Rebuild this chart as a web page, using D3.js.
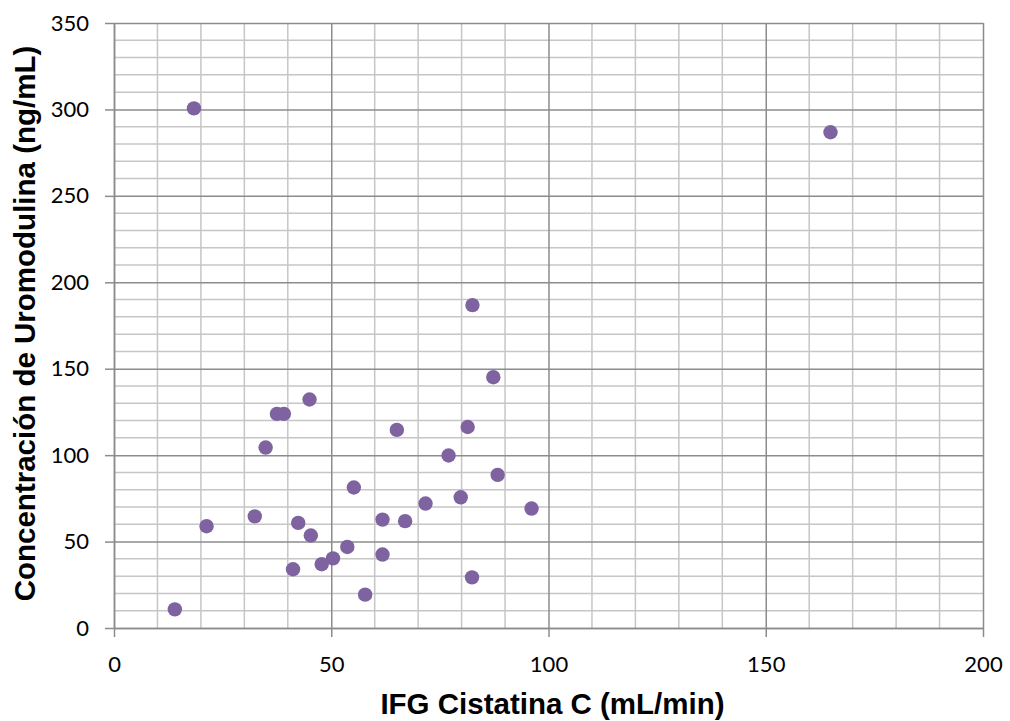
<!DOCTYPE html>
<html>
<head>
<meta charset="utf-8">
<script src="https://cdn.jsdelivr.net/npm/d3@7"></script>
<style>
  body { margin: 0; background: #fff; }
  svg { display: block; }
</style>
</head>
<body>
<svg id="chart" width="1010" height="721"></svg>
<script>
// IFG Cistatina C (mL/min)
const ifg = [14.0, 21.3, 32.4, 34.9, 37.5, 39.1, 45.0, 41.2, 42.4, 45.3,
  47.8, 50.4, 53.7, 55.2, 57.8, 61.8, 61.8, 65.1, 67.0, 71.7,
  77.0, 79.8, 81.4, 87.3, 88.3, 82.4, 96.1, 82.5, 18.4, 164.9];
// Concentración de Uromodulina (ng/mL)
const umod = [10.8, 58.9, 64.6, 104.4, 123.9, 123.9, 132.2, 34.0, 60.8, 53.5,
  36.9, 40.3, 46.9, 81.3, 19.3, 62.7, 42.5, 114.6, 61.8, 72.0,
  99.8, 75.6, 116.3, 145.1, 88.6, 29.3, 69.1, 186.8, 300.6, 286.8];

const xTicks = [0, 50, 100, 150, 200];
const yTicks = [0, 50, 100, 150, 200, 250, 300, 350];

const margin = { top: 23, right: 27, bottom: 93, left: 114 },
  width = 1010,
  height = 721;

const svg = d3.select('#chart');

const x = d3.scaleLinear().domain([0, 200]).range([margin.left, width - margin.right]);
const y = d3.scaleLinear().domain([0, 350]).range([height - margin.bottom, margin.top]);

const minorX = d3.range(10, 200, 10).filter(v => v % 50 !== 0);
const minorY = d3.range(10, 350, 10).filter(v => v % 50 !== 0);

const grid = svg.append('g');

// minor grid
grid.selectAll('.mx').data(minorX).join('line')
  .attr('x1', d => x(d)).attr('x2', d => x(d))
  .attr('y1', y(0)).attr('y2', y(350))
  .attr('stroke', '#c6c6c6').attr('stroke-width', 1.5);
grid.selectAll('.my').data(minorY).join('line')
  .attr('y1', d => y(d)).attr('y2', d => y(d))
  .attr('x1', x(0)).attr('x2', x(200))
  .attr('stroke', '#c6c6c6').attr('stroke-width', 1.5);

// major grid
svg.append('g')
  .attr('transform', `translate(0,${y(0)})`)
  .call(d3.axisBottom(x).tickValues(xTicks).tickSize(-(y(0) - y(350))).tickFormat(''))
  .call(g => g.select('.domain').remove())
  .selectAll('.tick line').attr('stroke', '#8c8c8c').attr('stroke-width', 1.5);
svg.append('g')
  .attr('transform', `translate(${x(0)},0)`)
  .call(d3.axisLeft(y).tickValues(yTicks).tickSize(-(x(200) - x(0))).tickFormat(''))
  .call(g => g.select('.domain').remove())
  .selectAll('.tick line').attr('stroke', '#8c8c8c').attr('stroke-width', 1.5);

// axes with outer ticks and labels
svg.append('g')
  .attr('transform', `translate(0,${y(0)})`)
  .call(d3.axisBottom(x).tickValues(xTicks).tickSize(9).tickPadding(19).tickSizeOuter(0))
  .call(g => g.select('.domain').attr('stroke', '#8c8c8c').attr('stroke-width', 1.5))
  .call(g => g.selectAll('.tick line').attr('stroke', '#8c8c8c').attr('stroke-width', 1.5))
  .call(g => g.selectAll('.tick text')
    .attr('font-family', 'Lato, sans-serif').attr('font-size', 22).attr('fill', '#000'));

svg.append('g')
  .attr('transform', `translate(${x(0)},0)`)
  .call(d3.axisLeft(y).tickValues(yTicks).tickSize(9).tickPadding(16).tickSizeOuter(0))
  .call(g => g.select('.domain').attr('stroke', '#8c8c8c').attr('stroke-width', 1.5))
  .call(g => g.selectAll('.tick line').attr('stroke', '#8c8c8c').attr('stroke-width', 1.5))
  .call(g => g.selectAll('.tick text')
    .attr('font-family', 'Lato, sans-serif').attr('font-size', 22).attr('fill', '#000'));

// points
svg.append('g')
  .selectAll('circle')
  .data(ifg.map((v, i) => [v, umod[i]]))
  .join('circle')
  .attr('cx', d => x(d[0]))
  .attr('cy', d => y(d[1]))
  .attr('r', 7.2)
  .attr('fill', '#7f63a1');

// axis titles
svg.append('text')
  .attr('x', (x(0) + x(200)) / 2 + 4)
  .attr('y', 714)
  .attr('text-anchor', 'middle')
  .attr('font-family', '"Liberation Sans", Arial, sans-serif')
  .attr('font-weight', 'bold')
  .attr('font-size', 29.5)
  .text('IFG Cistatina C (mL/min)');

svg.append('text')
  .attr('transform', `translate(35,${(y(0) + y(350)) / 2 - 2}) rotate(-90)`)
  .attr('text-anchor', 'middle')
  .attr('font-family', '"Liberation Sans", Arial, sans-serif')
  .attr('font-weight', 'bold')
  .attr('font-size', 29.5)
  .text('Concentración de Uromodulina (ng/mL)');
</script>
</body>
</html>
